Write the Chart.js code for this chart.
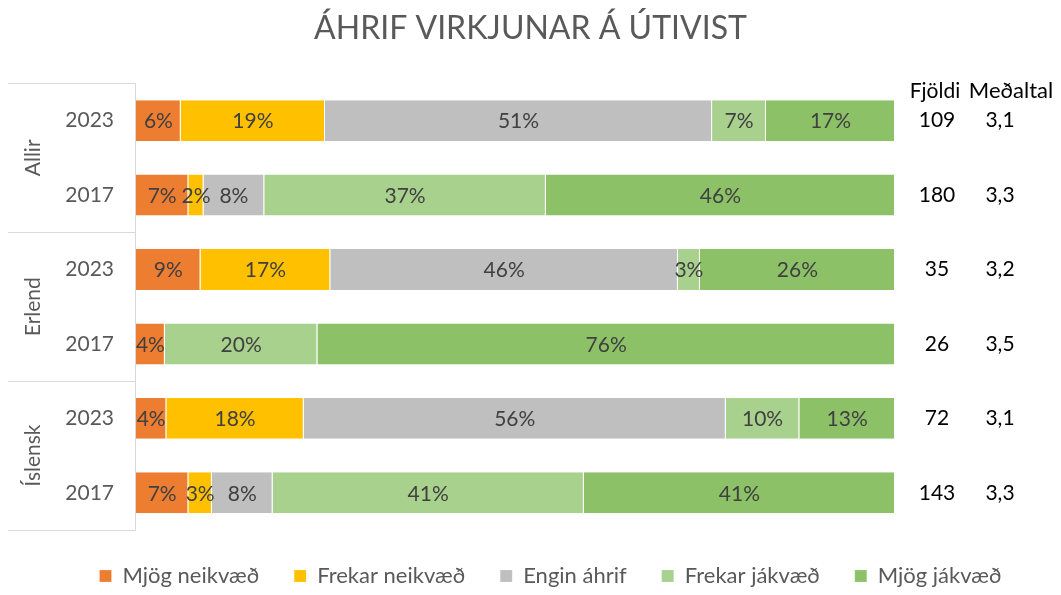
<!DOCTYPE html>
<html>
<head>
<meta charset="utf-8">
<script src="https://cdn.jsdelivr.net/npm/chart.js@4.4.1/dist/chart.umd.min.js"></script>
<style>
  html, body { margin: 0; padding: 0; background: #fff; }
  #wrap { width: 1061px; height: 595px; }
</style>
</head>
<body>
<div id="wrap"><canvas id="grafAhrif"></canvas></div>
<script>
// gildi lesin af myndinni (hlutfall %)
const flokkar = ["2023", "2017", "2023", "2017", "2023", "2017"];
const hopar = ["Allir", "Erlend", "Íslensk"];
const mjogNeikvaed = [5.9, 6.9, 8.5, 3.8, 4.0, 6.9];
const frekarNeikvaed = [19.0, 2.0, 17.1, 0, 18.1, 3.1];
const enginAhrif = [51.0, 8.0, 45.8, 0, 55.6, 8.0];
const frekarJakvaed = [7.1, 37.1, 2.9, 20.1, 9.7, 41.0];
const mjogJakvaed = [17.0, 46.0, 25.7, 76.1, 12.6, 41.0];
const fjoldi = [109, 180, 35, 26, 72, 143];
const medaltal = ["3,1", "3,3", "3,2", "3,5", "3,1", "3,3"];

const leturGerd = "Lato, 'Open Sans', sans-serif";
Chart.defaults.font.family = leturGerd;
Chart.defaults.color = "#595959";

// prosentur inni i sulum
const gildaMerki = {
  id: "gildaMerki",
  afterDatasetsDraw(chart) {
    const ctx = chart.ctx;
    ctx.save();
    ctx.font = "21px " + leturGerd;
    ctx.fillStyle = "#404040";
    ctx.textAlign = "center";
    ctx.textBaseline = "middle";
    chart.data.datasets.forEach((ds, i) => {
      const meta = chart.getDatasetMeta(i);
      meta.data.forEach((bar, j) => {
        const v = ds.data[j];
        if (!v) return;
        const midja = (bar.x + bar.base) / 2;
        ctx.fillText(Math.round(v) + "%", midja, bar.y + 1);
      });
    });
    ctx.restore();
  }
};

// skyrings-reitur adeins til haegri eins og i frumriti
const hliðraSkyringu = {
  id: "hlidraSkyringu",
  afterLayout(chart) {
    const lg = chart.legend;
    if (!lg) return;
    lg.left += 20;
    lg.right += 20;
    if (lg.adjustHitBoxes) lg.adjustHitBoxes();
  }
};

// hopaheiti, linur og dalkar til haegri
const toflu = {
  id: "toflu",
  afterDraw(chart) {
    const ctx = chart.ctx;
    const ca = chart.chartArea;
    const y = chart.scales.y;
    ctx.save();
    ctx.strokeStyle = "#D9D9D9";
    ctx.lineWidth = 1;
    ctx.beginPath();
    ctx.moveTo(ca.left - 0.5, ca.top);
    ctx.lineTo(ca.left - 0.5, ca.bottom);
    const skil = [ca.top];
    for (let g = 1; g < hopar.length; g++) {
      skil.push((y.getPixelForValue(g * 2 - 1) + y.getPixelForValue(g * 2)) / 2);
    }
    skil.push(ca.bottom);
    skil.forEach(s => {
      ctx.moveTo(8, Math.round(s) + 0.5);
      ctx.lineTo(ca.left, Math.round(s) + 0.5);
    });
    ctx.stroke();

    ctx.fillStyle = "#595959";
    ctx.font = "21px " + leturGerd;
    ctx.textAlign = "center";
    ctx.textBaseline = "middle";
    hopar.forEach((h, g) => {
      const mid = (skil[g] + skil[g + 1]) / 2;
      ctx.save();
      ctx.translate(33, mid);
      ctx.rotate(-Math.PI / 2);
      ctx.fillText(h, 0, 0);
      ctx.restore();
    });

    ctx.fillStyle = "#000";
    ctx.font = "21px " + leturGerd;
    ctx.fillText("Fjöldi", 935, 91);
    ctx.font = "22px " + leturGerd;
    ctx.fillText("Meðaltal", 1011, 91);
    ctx.font = "21px " + leturGerd;
    fjoldi.forEach((f, i) => {
      const py = y.getPixelForValue(i);
      ctx.fillText(String(f), 937, py);
      ctx.fillText(medaltal[i], 1000, py);
    });
    ctx.restore();
  }
};

const ctx1 = document.getElementById("grafAhrif").getContext("2d");
const graf = new Chart(ctx1, {
  type: "bar",
  data: {
    labels: flokkar,
    datasets: [
      { label: "Mjög neikvæð", data: mjogNeikvaed, backgroundColor: "#ED7D31" },
      { label: "Frekar neikvæð", data: frekarNeikvaed, backgroundColor: "#FFC000" },
      { label: "Engin áhrif", data: enginAhrif, backgroundColor: "#BFBFBF" },
      { label: "Frekar jákvæð", data: frekarJakvaed, backgroundColor: "#A9D18E" },
      { label: "Mjög jákvæð", data: mjogJakvaed, backgroundColor: "#8CC168" },
    ],
  },
  options: {
    indexAxis: "y",
    responsive: true,
    maintainAspectRatio: false,
    animation: false,
    datasets: {
      bar: {
        categoryPercentage: 1,
        barPercentage: 0.55,
        borderColor: "rgba(255,255,255,0.7)",
        borderWidth: { left: 0, right: 1, top: 0, bottom: 0 },
        borderSkipped: false,
      },
    },
    layout: { padding: { left: 0, right: 0, top: 0, bottom: 1 } },
    scales: {
      x: {
        stacked: true,
        min: 0,
        max: 100,
        display: false,
      },
      y: {
        stacked: true,
        grid: { display: false },
        border: { display: false },
        ticks: { color: "#595959", font: { size: 21 }, padding: 14 },
        afterFit(s) { s.width = 136; },
      },
      yHaegri: {
        type: "category",
        labels: flokkar,
        position: "right",
        grid: { display: false },
        border: { display: false },
        ticks: { display: false },
        afterFit(s) { s.width = 166; },
      },
    },
    plugins: {
      title: {
        display: true,
        text: "ÁHRIF VIRKJUNAR Á ÚTIVIST",
        color: "#595959",
        font: { size: 32, weight: "normal" },
        padding: { top: 9, bottom: 36 },
      },
      legend: {
        position: "bottom",
        maxHeight: 64,
        labels: {
          color: "#595959",
          font: { size: 22 },
          boxWidth: 12,
          boxHeight: 12,
          padding: 35,
        },
      },
      tooltip: { enabled: false },
    },
  },
  plugins: [gildaMerki, toflu, hliðraSkyringu],
});
</script>
</body>
</html>
